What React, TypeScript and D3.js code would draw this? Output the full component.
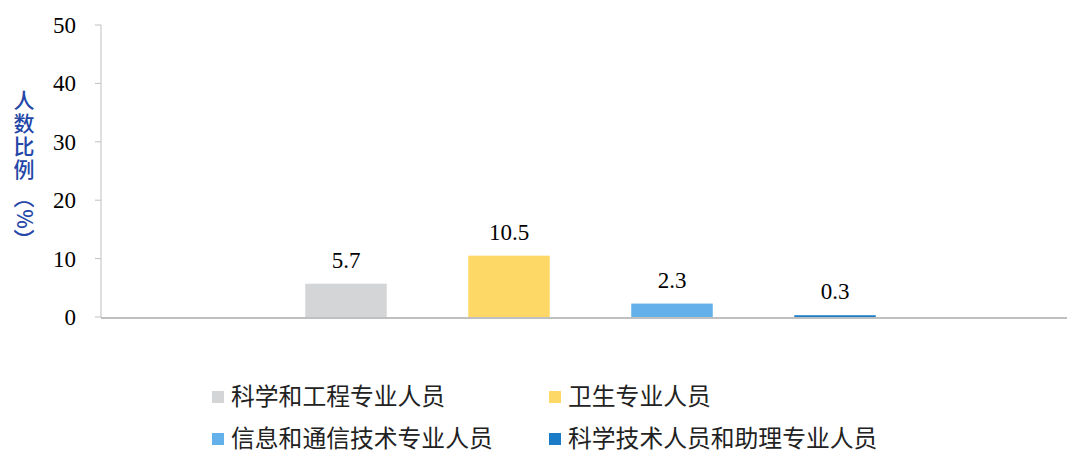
import React from "react";
import * as d3 from "d3";

const seriesNames = ["科学和工程专业人员", "卫生专业人员", "信息和通信技术专业人员", "科学技术人员和助理专业人员"];
const seriesValues = [5.7, 10.5, 2.3, 0.3];
const seriesColors = ["#D4D5D7", "#FDD866", "#63B0EA", "#1A7CC7"];
const yTicks = [0, 10, 20, 30, 40, 50];
const yTitleChars = ["人", "数", "比", "例", "︵", "%", "︶"];

const SERIF = "'Liberation Serif', 'Times New Roman', serif";
const CJK = "'Noto Sans CJK SC', sans-serif";

export default function App() {
  const W = 1067, H = 450;
  const axisX = 101;
  const y = d3.scaleLinear().domain([0, 50]).range([317, 25]);
  const x = d3.scaleBand<string>().domain(seriesNames).range([264.5, 916.5]).paddingInner(0.5).paddingOuter(0.25);
  const legendPos = [
    [212, 397], [549, 397], [212, 439], [549, 439],
  ];
  const titleY = [101, 124, 147, 170, 198, 219, 240];
  return (
    <svg width={W} height={H} style={{ position: "absolute", left: 0, top: 0, background: "#fff" }}>
      {yTicks.map((t) => (
        <g key={t}>
          <line x1={95} x2={axisX} y1={y(t)} y2={y(t)} stroke="#BFBFBF" strokeWidth={1} />
          <text x={76} y={y(t)} dy="0.35em" textAnchor="end" style={{ fontFamily: SERIF }} fontSize={23} fill="#000">{t}</text>
        </g>
      ))}
      <line x1={axisX} x2={axisX} y1={y(50)} y2={y(0)} stroke="#BFBFBF" strokeWidth={1} />
      <line x1={axisX} x2={W} y1={y(0) + 1} y2={y(0) + 1} stroke="#BFBFBF" strokeWidth={2} />
      {seriesNames.map((s, i) => (
        <g key={s}>
          <rect x={x(s)} width={x.bandwidth()} y={y(seriesValues[i])} height={y(0) - y(seriesValues[i])} fill={seriesColors[i]} />
          <text x={(x(s) as number) + x.bandwidth() / 2} y={y(seriesValues[i]) - 16} textAnchor="middle" style={{ fontFamily: SERIF }} fontSize={23} fill="#000">{seriesValues[i].toFixed(1)}</text>
        </g>
      ))}
      {yTitleChars.map((c, i) => (
        <text key={i} x={24} y={titleY[i]} dy="0.35em" textAnchor="middle" fontFamily={CJK} fontSize={21} fontWeight={500} fill="#2447A8"
          transform={c === "%" ? `rotate(90 24 ${titleY[i]})` : undefined}>{c}</text>
      ))}
      {seriesNames.map((s, i) => (
        <g key={s} transform={`translate(${legendPos[i][0]},${legendPos[i][1]})`}>
          <rect x={0} y={-6} width={12} height={12} fill={seriesColors[i]} />
          <text x={19} y={0} dy="0.35em" fontFamily={CJK} fontSize={23.8} fill="#222">{s}</text>
        </g>
      ))}
    </svg>
  );
}
